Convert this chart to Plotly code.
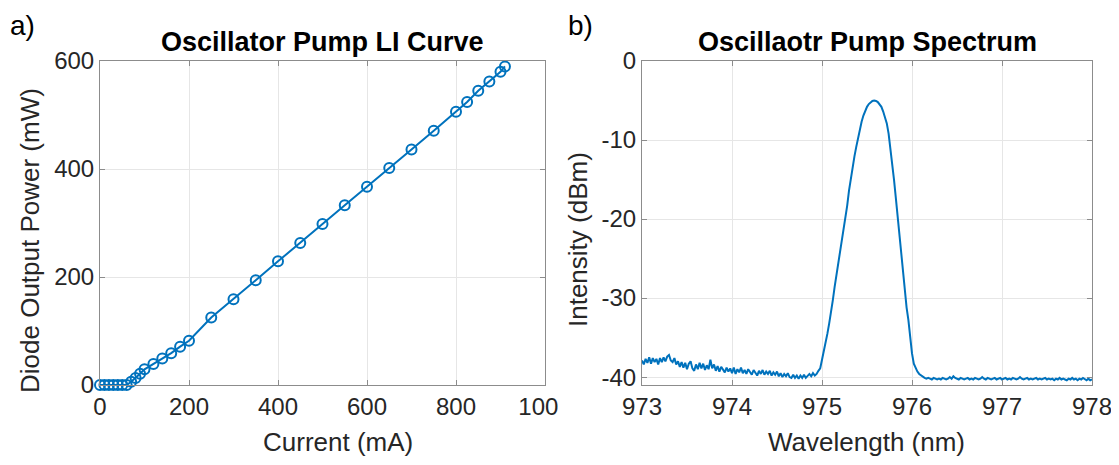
import numpy as np
import plotly.graph_objects as go

# ---------------- data: a) LI curve ----------------
current_mA = [0, 10, 20, 30, 40, 50, 60, 70, 80, 90, 100, 120, 140, 160, 180, 200,
              250, 300, 350, 400, 450, 500, 550, 600, 650, 700, 750, 800, 825, 850,
              875, 900, 910]
power_mW = [0, 0, 0, 0, 0, 0, 0, 6, 13, 21, 29, 39, 49, 59, 71, 82,
            125, 159, 194, 229, 263, 298, 333, 367, 402, 436, 471, 506, 524, 545,
            562, 580, 590]

# ---------------- data: b) spectrum (973.00 .. 978.00 nm, 0.02 nm step) ----------------
spec_left = [
    -37.9, -38.4, -37.7, -38.2, -37.5, -38.3, -37.6, -38.1, -37.7, -38.4,
    -37.6, -38.1, -37.5, -38.0, -37.4, -37.2, -37.9, -38.1, -37.6, -38.4,
    -38.0, -38.7, -38.1, -38.8, -38.2, -39.0, -38.3, -38.0, -38.9, -39.2,
    -38.4, -39.0, -38.2, -38.9, -38.3, -39.1, -38.5, -39.0, -37.8, -38.9,
    -38.4, -39.2, -38.6, -39.3, -38.7, -39.1, -39.4, -38.8, -39.3, -38.9,
    -39.5, -38.8, -39.6, -39.0, -39.4, -38.8, -39.5, -39.1, -39.6, -39.0,
    -39.4, -39.7, -39.1, -39.5, -39.8, -39.2, -39.6, -39.1, -39.7, -39.3,
    -39.6, -39.2, -39.8, -39.4, -39.7, -39.3, -39.9, -39.5, -40.0, -39.6,
    -39.9, -39.5, -40.0, -40.1, -39.7, -40.1, -39.8, -40.2, -39.8, -40.1,
    -39.7, -40.1, -39.8, -39.6, -39.9, -39.5, -39.8,
]
spec_peak = [
    -39.6, -39.2, -38.9, -37.8, -36.8, -35.6, -34.5, -33.2, -32.0, -30.3,
    -28.6, -27.2, -25.7, -24.3, -22.9, -21.5, -20.1, -18.3, -16.4, -14.8,
    -13.4, -12.1, -10.9, -9.7, -8.6, -7.7, -6.9, -6.3, -5.8, -5.45,
    -5.2, -5.05, -5.0, -5.05, -5.2, -5.45, -5.8, -6.4, -7.1, -7.9,
    -9.2, -10.9, -12.8, -15.0, -17.3, -19.7, -22.2, -24.8, -27.3, -29.5,
    -31.2, -32.8, -35.0, -37.0, -38.3, -38.9, -39.3, -39.6, -39.8, -40.0,
    -40.1,
]
spec_right = [
    -40.2, -40.1, -40.2, -40.3, -40.1, -40.2, -40.3, -40.2, -40.3, -40.1,
    -40.2, -40.3, -40.2, -40.0, -40.2, -39.9, -40.1, -40.2, -40.3, -40.1,
    -40.2, -40.3, -40.2, -40.1, -40.3, -40.2, -40.3, -40.1, -40.2, -40.3,
    -40.2, -40.0, -40.2, -40.3, -40.1, -40.2, -40.3, -40.2, -40.1, -40.3,
    -40.2, -40.1, -40.3, -40.2, -40.1, -40.3, -40.2, -40.3, -40.1, -40.2,
    -40.3, -40.2, -40.0, -40.2, -40.3, -40.2, -40.1, -40.3, -40.2, -40.3,
    -40.2, -40.1, -40.3, -40.2, -40.3, -40.2, -40.1, -40.3, -40.2, -40.3,
    -40.2, -40.4, -40.2, -40.3, -40.1, -40.3, -40.2, -40.3, -40.4, -40.2,
    -40.3, -40.1, -40.3, -40.2, -40.4, -40.2, -40.3, -40.1, -40.3, -40.4,
    -40.2, -40.4, -40.3,
]
intensity_dBm = spec_left + spec_peak + spec_right
wl_start, wl_stop = 973.0, 978.0
wavelength_nm = np.linspace(wl_start, wl_stop, len(intensity_dBm))

x1_ticks = [0, 200, 400, 600, 800, 1000]
y1_ticks = [0, 200, 400, 600]
x2_ticks = [973, 974, 975, 976, 977, 978]
y2_ticks = [-40, -30, -20, -10, 0]
y2_ticklabels = ["-40", "-30", "-20", "-10", "0"]

# ---------------- styling ----------------
BLUE = "#0072BD"
FONT = "Liberation Sans, Arial, Helvetica, sans-serif"
TICK_COLOR = "#262626"
LINE_COLOR = "#8c8c8c"
GRID_COLOR = "#e6e6e6"
PAGE_W, PAGE_H = 1119, 465
OFF = 8                      # default page body margin
W, H = PAGE_W - OFF, PAGE_H - OFF


def fx(px):
    return (px - OFF) / W


def fy(py):
    return 1 - (py - OFF) / H


fig = go.Figure()
fig.add_trace(go.Scatter(
    x=current_mA, y=power_mW, mode="lines+markers",
    line=dict(color=BLUE, width=2),
    marker=dict(symbol="circle-open", size=10, color=BLUE, line=dict(width=2)),
    cliponaxis=False, xaxis="x", yaxis="y", showlegend=False))
fig.add_trace(go.Scatter(
    x=wavelength_nm, y=intensity_dBm, mode="lines",
    line=dict(color=BLUE, width=2),
    xaxis="x2", yaxis="y2", showlegend=False))


def ax(**kw):
    d = dict(showline=True, linecolor=LINE_COLOR, linewidth=1, mirror="ticks",
             ticks="inside", ticklen=5, tickcolor=LINE_COLOR, tickwidth=1,
             showgrid=True, gridcolor=GRID_COLOR, gridwidth=1, zeroline=False,
             automargin=False,
             tickfont=dict(family=FONT, size=24, color=TICK_COLOR))
    d.update(kw)
    return d


yd = [fy(385), fy(61)]
fig.update_layout(
    width=W, height=H,
    margin=dict(l=0, r=0, t=0, b=0),
    paper_bgcolor="white", plot_bgcolor="white",
    xaxis=ax(domain=[fx(100), fx(545)], range=[0, 1000], tickvals=x1_ticks, anchor="y"),
    yaxis=ax(domain=yd, range=[0, 600], tickvals=y1_ticks, anchor="x"),
    xaxis2=ax(domain=[fx(642), fx(1092)], range=[973, 978], tickvals=x2_ticks, anchor="y2"),
    yaxis2=ax(domain=yd, range=[-41, 0], tickvals=y2_ticks, ticktext=y2_ticklabels,
              anchor="x2"),
)

LABEL_FONT = dict(family=FONT, size=26, color=TICK_COLOR)


def label(text, px, py, angle=0):
    fig.add_annotation(text=text, x=fx(px), y=fy(py), xref="paper", yref="paper",
                       showarrow=False, xanchor="center", yanchor="middle",
                       textangle=angle, font=LABEL_FONT)


label("Current (mA)", 338, 442)
label("Wavelength (nm)", 866, 442)
label("Diode Output Power (mW)", 30, 241, -90)
label("Intensity (dBm)", 578, 240, -90)

# titles and panel labels
fig.add_annotation(text="<b>Oscillator Pump LI Curve</b>", x=fx((100 + 545) / 2), y=fy(42),
                   xref="paper", yref="paper", showarrow=False, xanchor="center", yanchor="middle",
                   font=dict(family=FONT, size=27, color="black"))
fig.add_annotation(text="<b>Oscillaotr Pump Spectrum</b>", x=fx((642 + 1092) / 2), y=fy(42),
                   xref="paper", yref="paper", showarrow=False, xanchor="center", yanchor="middle",
                   font=dict(family=FONT, size=27, color="black"))
fig.add_annotation(text="a)", x=0, y=1, xref="paper", yref="paper",
                   showarrow=False, xanchor="left", yanchor="top",
                   font=dict(family=FONT, size=28, color="black"))
fig.add_annotation(text="b)", x=fx(566), y=1, xref="paper", yref="paper", showarrow=False,
                   xanchor="left", yanchor="top", font=dict(family=FONT, size=28, color="black"))

# the right panel's background hides the last digit of "1000"
fig.add_shape(type="rect", xref="paper", yref="paper", x0=fx(558), x1=fx(585),
              y0=fy(430), y1=fy(392), fillcolor="white", line=dict(width=0),
              layer="above")

fig.write_html("out.html")
